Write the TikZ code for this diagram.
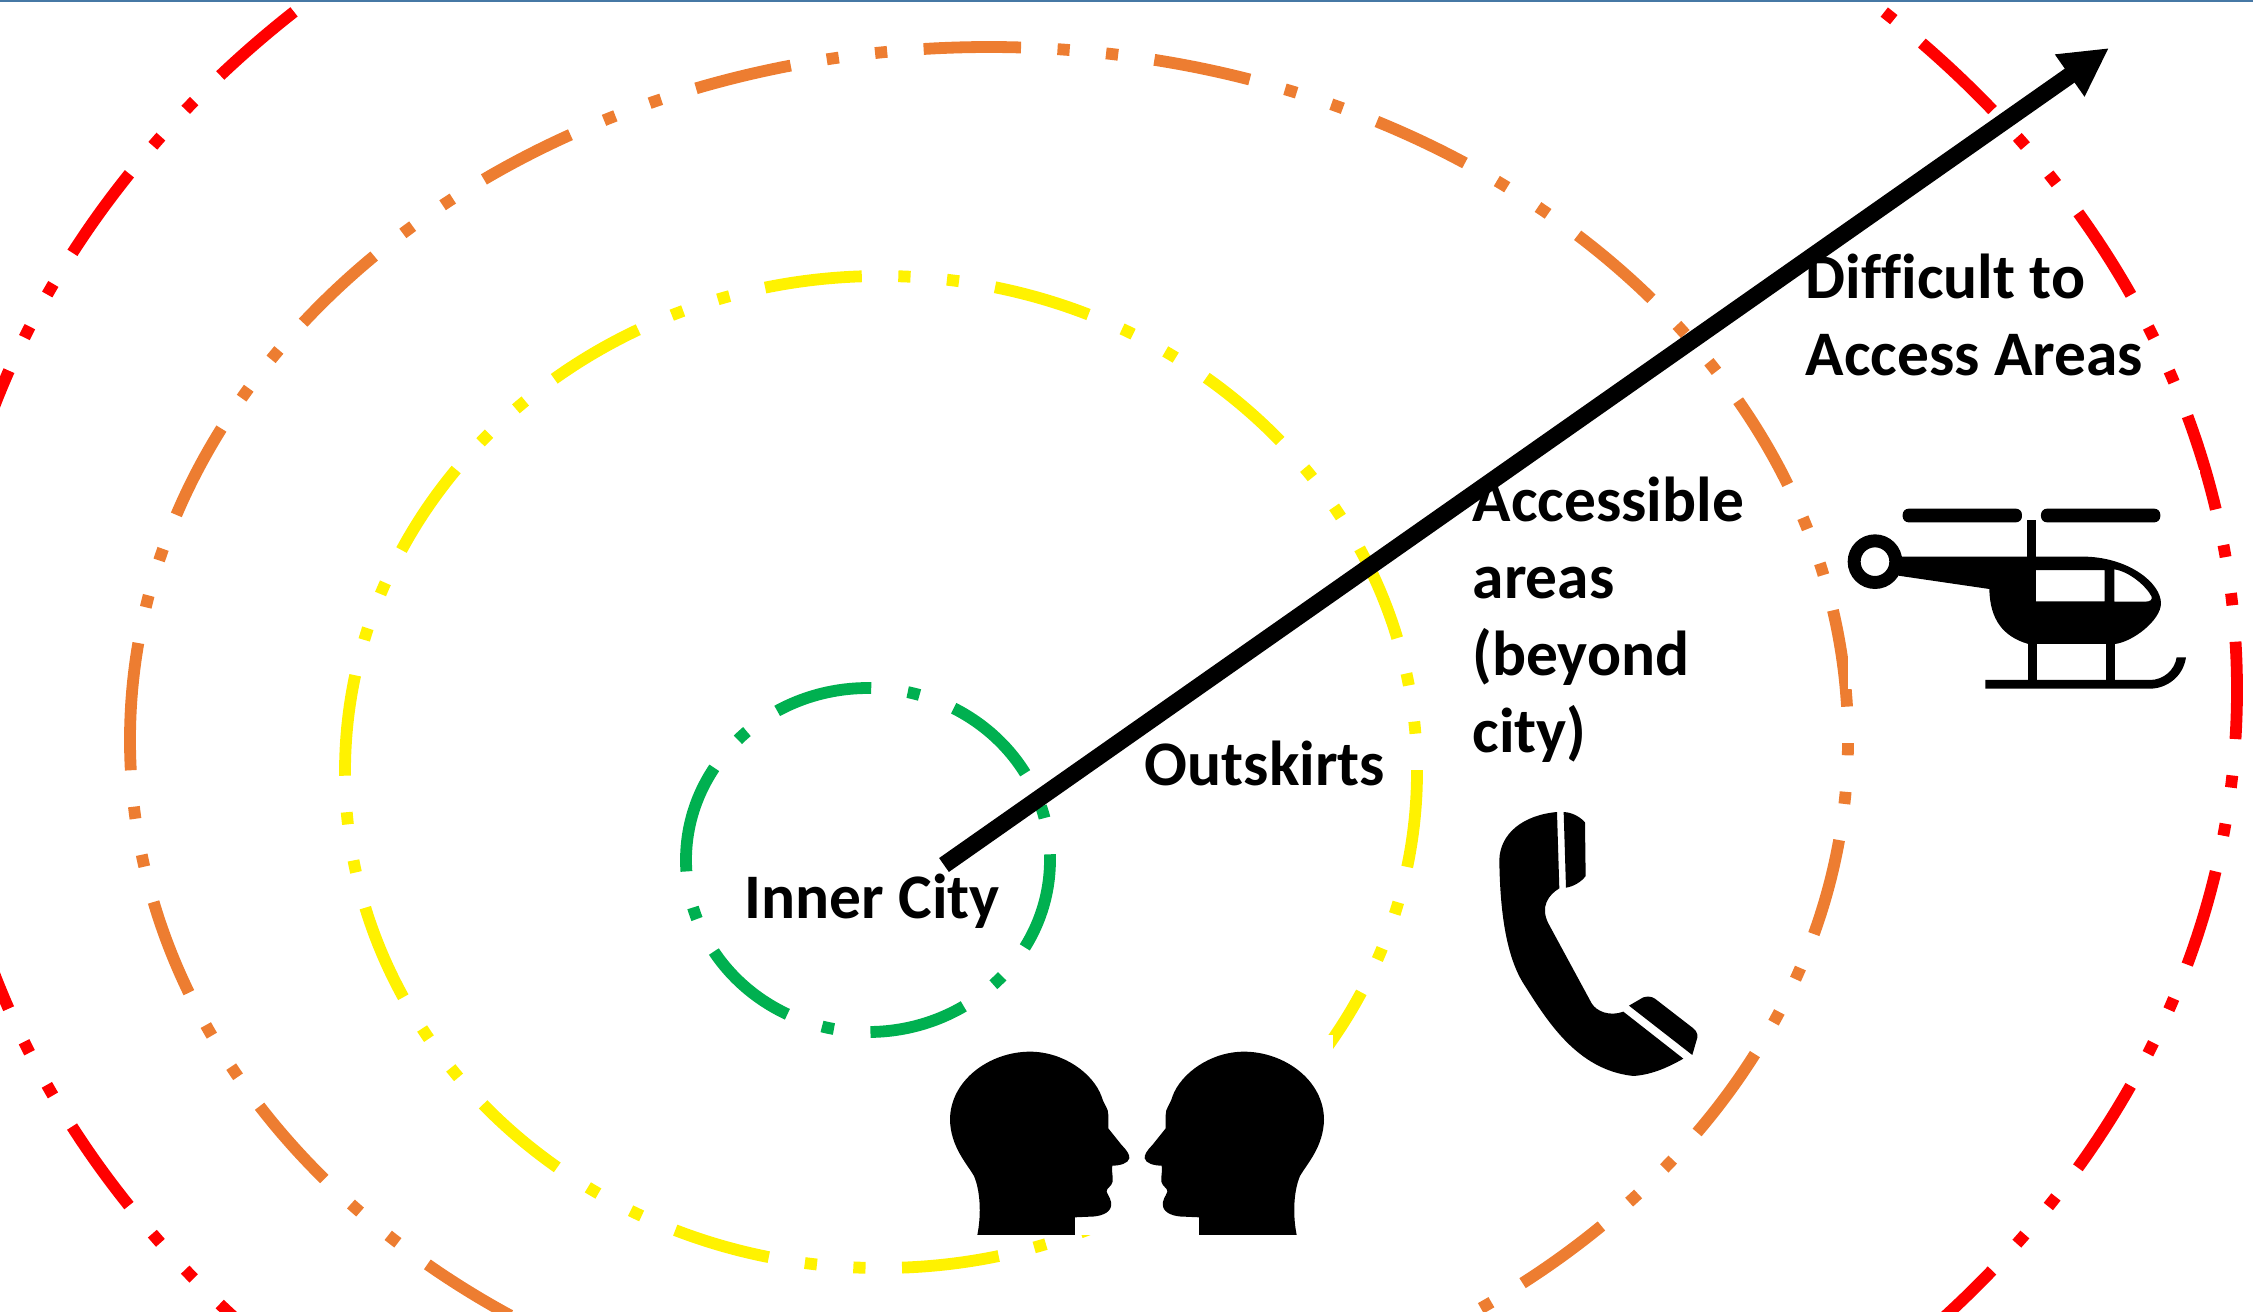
\documentclass[tikz,border=0pt]{standalone}
\usepackage{fontspec}
\setmainfont[Ligatures=NoCommon]{Carlito}
\usetikzlibrary{arrows.meta}
\def\headoutline{(232,705) .. controls (245,640) and (240,570) .. (222,528) .. controls (200,490) and (152,440) .. (150,360) .. controls (150,240) and (270,155) .. (390,155) .. controls (490,155) and (580,220) .. (605,290) .. controls (612,315) and (626,325) .. (625,345) -- (625,385) -- (665,435) .. controls (680,450) and (690,465) .. (688,475) .. controls (685,490) and (660,497) .. (637,497) .. controls (634,515) and (640,530) .. (638,545) .. controls (635,560) and (618,565) .. (620,575) .. controls (625,590) and (637,600) .. (633,620) .. controls (628,640) and (600,650) .. (570,650) -- (525,652) -- (525,705) -- cycle}
\tikzset{
	ringlong/.style={line width=0.118cm, dash pattern=on 0.974cm off 0.365cm on 0.122cm off 0.365cm on 0.122cm off 0.365cm},
	ringshort/.style={line width=0.118cm, dash pattern=on 0.978cm off 0.367cm on 0.122cm off 0.367cm},
	areatext/.style={font=\fontsize{18.05}{21.9}\selectfont\bfseries, align=left, inner sep=0pt}
}
\begin{document}
\begin{tikzpicture}[x=0.01cm, y=-0.01cm]
	%%%%% START %%%%%
	\useasboundingbox (0, 0) rectangle (2253, 1311);
	
	\draw[line width=0.02cm, color={rgb,255:red,70;green,120;blue,165}] (0, 1) -- (2253, 1);
	
	% each ring starts at its left end and runs clockwise
	\draw[ringlong, color=red] (-59, 690) arc [start angle=180, end angle=540, x radius=1148, y radius=940];
	\draw[ringlong, color={rgb,255:red,237;green,125;blue,49}] (130, 740) arc [start angle=180, end angle=540, x radius=859, y radius=693];
	\draw[ringlong, color=yellow] (345, 772) arc [start angle=180, end angle=540, x radius=536, y radius=496];
	\draw[ringshort, color={rgb,255:red,0;green,176;blue,80}] (686, 860) arc [start angle=180, end angle=540, x radius=182, y radius=172];
	
	% white backs of the two pictures
	\fill[white] (940, 1035) rectangle (1333, 1235);
	\fill[white] (1848, 470) rectangle (2200, 689);
	
	% heads
	\begin{scope}[shift={(900, 1000)}, scale=0.3333]
		\fill[black] \headoutline;
	\end{scope}
	\begin{scope}[shift={(1374, 1000)}, xscale=-0.3333, yscale=0.3333]
		\fill[black] \headoutline;
	\end{scope}
	
	% phone
	\begin{scope}[shift={(1460, 780)}, scale=0.3333]
		\fill[black] (291, 96) .. controls (190, 105) and (120, 160) .. (118, 240) .. controls (120, 400) and (140, 530) .. (190, 610) .. controls (260, 720) and (350, 870) .. (520, 888) .. controls (570, 885) and (620, 865) .. (670, 836) -- (490, 695) .. controls (450, 710) and (410, 695) .. (395, 670) -- (265, 430) .. controls (240, 380) and (265, 345) .. (298, 325) -- cycle;
		\fill[black] (311, 96) .. controls (340, 97) and (365, 115) .. (375, 127) -- (377, 288) .. controls (365, 305) and (340, 320) .. (318, 323) -- cycle;
		\fill[black] (507, 677) -- (550, 652) .. controls (570, 645) and (585, 655) .. (590, 660) -- (700, 745) .. controls (713, 755) and (715, 770) .. (710, 780) -- (697, 825) -- cycle;
	\end{scope}
	
	% helicopter
	\begin{scope}[shift={(1780, 460)}, scale=0.3333]
		\fill[black, rounded corners=0.06cm] (368, 146) rectangle (726, 187);
		\fill[black, rounded corners=0.06cm] (783, 146) rectangle (1141, 187);
		\fill[black] (740, 181) rectangle (768, 295);
		\fill[black, even odd rule] (285, 305) circle (82) (285, 305) circle (43);
		\fill[black, even odd rule] (360, 290) -- (920, 290) .. controls (1050, 295) and (1143, 370) .. (1143, 430) .. controls (1143, 480) and (1060, 545) .. (1005, 552) -- (745, 552) .. controls (670, 530) and (630, 480) .. (628, 387) -- (355, 347) -- cycle
			(768, 330) rectangle (974, 424)
			(1003, 328) .. controls (1050, 335) and (1100, 380) .. (1115, 410) .. controls (1118, 420) and (1110, 425) .. (1095, 425) -- (1003, 425) -- cycle;
		\fill[black] (743, 548) rectangle (770, 665);
		\fill[black] (978, 548) rectangle (1004, 665);
		\fill[black] (616, 660) -- (1110, 660) .. controls (1150, 660) and (1185, 630) .. (1190, 592) -- (1218, 592) .. controls (1210, 650) and (1160, 686) .. (1110, 686) -- (616, 686) -- cycle;
	\end{scope}
	
	\coordinate (arrowstart) at (944, 865);
	\coordinate (arrowend) at (2109, 48);
	\draw[line width=0.17cm, -{Triangle[length=0.48cm, width=0.48cm]}] (arrowstart) -- (arrowend);
	
	\node[areatext, anchor=base west] (innercity) at (744, 918) {Inner City};
	\node[areatext, anchor=base west] (outskirts) at (1144, 785) {Outskirts};
	\node[areatext, anchor=north west] (accessible) at (1472, 476) {Accessible\\areas\\(beyond\\city)};
	\node[areatext, anchor=north west] (difficult) at (1805, 253) {Difficult to\\Access Areas};
	
	%%%%% END %%%%%
\end{tikzpicture}
\end{document}
